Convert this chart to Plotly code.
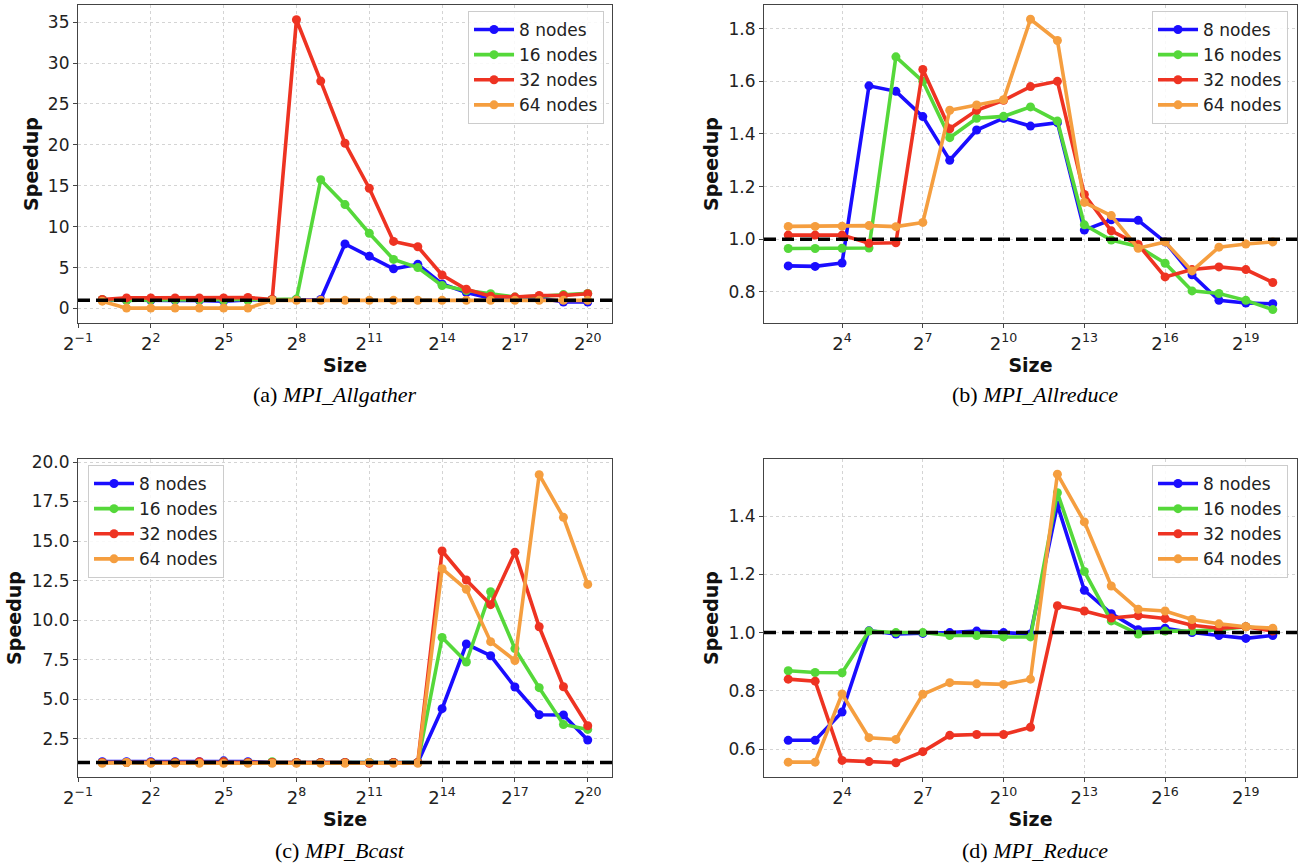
import plotly.graph_objects as go
import math

# ---------------- data ----------------
series_names = ["8 nodes", "16 nodes", "32 nodes", "64 nodes"]
series_colors = ["#1a0dff", "#55d83a", "#ee3322", "#f59e3f"]

exp_ac = list(range(0, 21))   # sizes 2^0 .. 2^20
exp_bd = list(range(2, 21))   # sizes 2^2 .. 2^20
sizes_ac = [2 ** k for k in exp_ac]
sizes_bd = [2 ** k for k in exp_bd]

# (a) MPI_Allgather
allgather_8 = [1.05, 1.0, 1.0, 1.0, 1.0, 0.9, 1.05, 1.1, 1.1, 1.1, 7.9, 6.4, 4.85, 5.4, 3.0, 1.95, 1.25, 1.3, 1.3, 0.8, 0.8]
allgather_16 = [1.1, 1.0, 1.05, 1.05, 1.05, 1.0, 1.0, 1.1, 1.15, 15.75, 12.7, 9.2, 6.0, 5.0, 2.8, 2.2, 1.8, 1.4, 1.5, 1.7, 1.85]
allgather_32 = [1.1, 1.3, 1.3, 1.3, 1.3, 1.3, 1.35, 1.1, 35.3, 27.8, 20.2, 14.7, 8.2, 7.55, 4.1, 2.35, 1.5, 1.4, 1.6, 1.6, 1.8]
allgather_64 = [0.9, 0.05, 0.05, 0.05, 0.05, 0.05, 0.05, 1.0, 1.0, 1.0, 1.0, 1.0, 1.0, 1.0, 1.0, 1.0, 1.0, 1.0, 1.0, 1.0, 1.0]

# (b) MPI_Allreduce
allreduce_8 = [0.899, 0.897, 0.91, 1.583, 1.562, 1.466, 1.30, 1.415, 1.46, 1.43, 1.443, 1.035, 1.074, 1.072, 0.99, 0.865, 0.768, 0.758, 0.755]
allreduce_16 = [0.965, 0.965, 0.966, 0.967, 1.693, 1.60, 1.386, 1.46, 1.467, 1.503, 1.449, 1.055, 0.997, 0.973, 0.909, 0.804, 0.794, 0.768, 0.733]
allreduce_32 = [1.016, 1.016, 1.016, 0.985, 0.987, 1.645, 1.42, 1.49, 1.528, 1.58, 1.60, 1.17, 1.032, 0.98, 0.857, 0.885, 0.895, 0.885, 0.836]
allreduce_64 = [1.049, 1.049, 1.05, 1.052, 1.048, 1.064, 1.49, 1.51, 1.53, 1.836, 1.755, 1.14, 1.09, 0.966, 0.99, 0.88, 0.97, 0.982, 0.99]

# (c) MPI_Bcast
bcast_8 = [1.05, 1.05, 1.05, 1.05, 1.05, 1.1, 1.05, 1.0, 1.0, 1.0, 1.0, 1.0, 1.0, 1.0, 4.4, 8.49, 7.75, 5.77, 4.02, 4.0, 2.42]
bcast_16 = [1.0, 1.0, 1.0, 1.0, 1.0, 1.05, 1.0, 1.05, 1.0, 1.0, 1.0, 1.0, 1.0, 1.0, 8.9, 7.35, 11.8, 8.2, 5.73, 3.4, 3.09]
bcast_32 = [1.0, 1.0, 1.0, 1.0, 1.05, 1.05, 1.0, 1.0, 1.0, 1.0, 1.0, 0.95, 1.0, 1.0, 14.37, 12.54, 10.98, 14.3, 9.58, 5.79, 3.32]
bcast_64 = [0.95, 1.0, 0.95, 0.95, 0.95, 0.95, 0.95, 0.95, 0.95, 0.95, 0.95, 1.0, 0.95, 0.95, 13.25, 11.95, 8.64, 7.45, 19.2, 16.5, 12.26]

# (d) MPI_Reduce
reduce_8 = [0.63, 0.63, 0.727, 1.006, 0.995, 0.997, 1.0, 1.005, 1.0, 0.995, 1.438, 1.145, 1.065, 1.01, 1.015, 1.0, 0.99, 0.98, 0.99]
reduce_16 = [0.869, 0.863, 0.862, 1.005, 1.0, 1.0, 0.99, 0.99, 0.985, 0.985, 1.48, 1.21, 1.04, 0.995, 1.005, 1.005, 1.01, 1.02, 1.01]
reduce_32 = [0.84, 0.833, 0.561, 0.557, 0.553, 0.591, 0.647, 0.65, 0.65, 0.675, 1.092, 1.074, 1.05, 1.058, 1.048, 1.025, 1.015, 1.02, 1.005]
reduce_64 = [0.555, 0.555, 0.789, 0.639, 0.633, 0.788, 0.828, 0.824, 0.822, 0.84, 1.544, 1.38, 1.16, 1.08, 1.074, 1.045, 1.03, 1.02, 1.015]

captions = ["(a) <i>MPI_Allgather</i>", "(b) <i>MPI_Allreduce</i>",
            "(c) <i>MPI_Bcast</i>", "(d) <i>MPI_Reduce</i>"]

xtick_exp_ac = [-1, 2, 5, 8, 11, 14, 17, 20]
xtick_exp_bd = [4, 7, 10, 13, 16, 19]

ytick_a = [0, 5, 10, 15, 20, 25, 30, 35]
ytick_b = [0.8, 1.0, 1.2, 1.4, 1.6, 1.8]
ytick_c = [2.5, 5.0, 7.5, 10.0, 12.5, 15.0, 17.5, 20.0]
ytick_d = [0.6, 0.8, 1.0, 1.2, 1.4]

baseline = 1.0

# ---------------- layout helpers ----------------
W, H = 1301, 865
def px_x(p):
    return p / W
def px_y(p):
    return 1 - p / H

panels = [
    dict(x=sizes_ac, ys=[allgather_8, allgather_16, allgather_32, allgather_64],
         xdom=[px_x(78), px_x(612)], ydom=[px_y(323), px_y(5)],
         xr=[-1, 21], yr=[-1.77, 37.1], xt=xtick_exp_ac, yt=ytick_a, yfmt="d",
         leg=dict(x=px_x(604), y=px_y(11), xanchor="right")),
    dict(x=sizes_bd, ys=[allreduce_8, allreduce_16, allreduce_32, allreduce_64],
         xdom=[px_x(764), px_x(1297)], ydom=[px_y(323), px_y(5)],
         xr=[1.1, 20.9], yr=[0.682, 1.89], xt=xtick_exp_bd, yt=ytick_b, yfmt=".1f",
         leg=dict(x=px_x(1288), y=px_y(11), xanchor="right")),
    dict(x=sizes_ac, ys=[bcast_8, bcast_16, bcast_32, bcast_64],
         xdom=[px_x(78), px_x(612)], ydom=[px_y(777), px_y(459)],
         xr=[-1, 21], yr=[0.08, 20.19], xt=xtick_exp_ac, yt=ytick_c, yfmt=".1f",
         leg=dict(x=px_x(88), y=px_y(465), xanchor="left")),
    dict(x=sizes_bd, ys=[reduce_8, reduce_16, reduce_32, reduce_64],
         xdom=[px_x(764), px_x(1297)], ydom=[px_y(777), px_y(459)],
         xr=[1.1, 20.9], yr=[0.504, 1.596], xt=xtick_exp_bd, yt=ytick_d, yfmt=".1f",
         leg=dict(x=px_x(1288), y=px_y(465), xanchor="right")),
]

cap_pos = [(px_x(335), px_y(394)), (px_x(1035), px_y(394)),
           (px_x(340), px_y(850)), (px_x(1035), px_y(850))]

fig = go.Figure()
layout = dict(width=W, height=H, margin=dict(l=0, r=0, t=0, b=0, autoexpand=False),
              paper_bgcolor="white", plot_bgcolor="white",
              font=dict(family="DejaVu Sans", color="#222"),
              showlegend=True, shapes=[], annotations=[])

LOG2 = math.log10(2)
tickfont = dict(family="DejaVu Sans", size=17, color="#222")
xtickfont = dict(family="DejaVu Sans", size=18, color="#222")
titlefont = dict(family="DejaVu Sans", size=19, color="#111", weight="bold")
grid_color = "#d4d4d4"

for i, p in enumerate(panels):
    n = i + 1
    xa = "x" if n == 1 else f"x{n}"
    ya = "y" if n == 1 else f"y{n}"
    legname = "legend" if n == 1 else f"legend{n}"
    for name, color, yv in zip(series_names, series_colors, p["ys"]):
        fig.add_trace(go.Scatter(
            x=p["x"], y=yv, mode="lines+markers", name=name,
            line=dict(color=color, width=3.6),
            marker=dict(color=color, size=9),
            xaxis=xa, yaxis=ya, legend=legname))
    xkey = "xaxis" if n == 1 else f"xaxis{n}"
    ykey = "yaxis" if n == 1 else f"yaxis{n}"
    layout[xkey] = dict(
        domain=p["xdom"], anchor=ya, type="log",
        range=[p["xr"][0] * LOG2, p["xr"][1] * LOG2],
        tickvals=[2 ** k for k in p["xt"]],
        ticktext=[f"2<sup>{str(k).replace('-', '−')}</sup>" for k in p["xt"]],
        tickfont=xtickfont, ticks="outside", ticklen=4, tickcolor="#444",
        showline=True, linecolor="#444", linewidth=1.2, mirror=True,
        showgrid=True, gridcolor=grid_color, griddash="dot", gridwidth=1,
        zeroline=False, automargin=False,
        title=dict(text="Size", font=titlefont, standoff=1))
    layout[ykey] = dict(
        domain=p["ydom"], anchor=xa, range=p["yr"],
        tickvals=p["yt"], tickformat=p["yfmt"],
        tickfont=tickfont, ticks="outside", ticklen=4, tickcolor="#444",
        showline=True, linecolor="#444", linewidth=1.2, mirror=True,
        showgrid=True, gridcolor=grid_color, griddash="dot", gridwidth=1,
        zeroline=False, automargin=False,
        title=dict(text="Speedup", font=titlefont, standoff=4))
    layout[legname] = dict(
        x=p["leg"]["x"], y=p["leg"]["y"], xanchor=p["leg"]["xanchor"], yanchor="top",
        xref="paper", yref="paper", itemwidth=40,
        bgcolor="rgba(255,255,255,0.85)", bordercolor="#cccccc", borderwidth=1,
        font=dict(family="DejaVu Sans", size=17, color="#222"))
    layout["shapes"].append(dict(
        type="line", xref=f"{xa} domain", yref=ya, x0=0, x1=1, y0=baseline, y1=baseline,
        line=dict(color="black", width=3.5, dash="12px,6px"), layer="above"))
    cx, cy = cap_pos[i]
    layout["annotations"].append(dict(
        text=captions[i], x=cx, y=cy, xref="paper", yref="paper",
        xanchor="center", yanchor="middle", showarrow=False,
        font=dict(family="Liberation Serif", size=22, color="black")))

fig.update_layout(**layout)
fig.write_html("out.html", config={"displayModeBar": False},
               post_script="document.body.style.margin='0px';document.body.style.overflow='hidden';")
